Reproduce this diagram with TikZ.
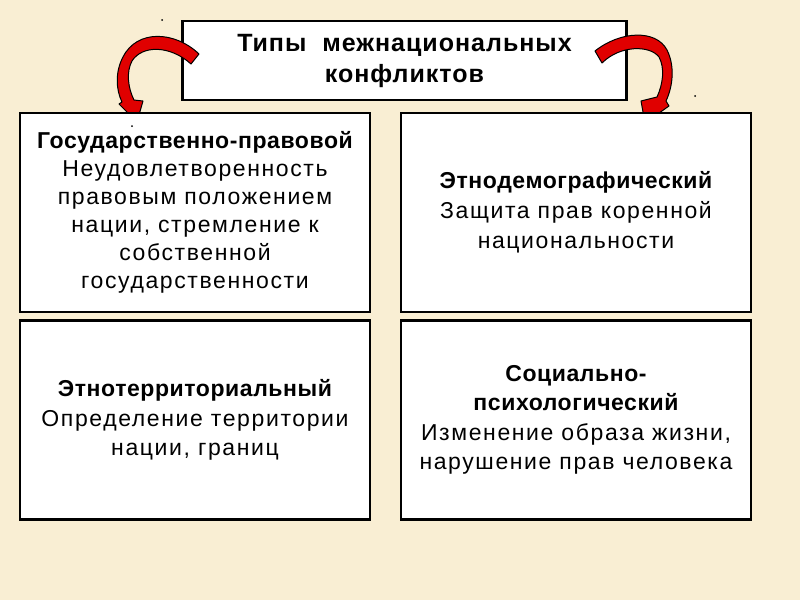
\documentclass[tikz,border=0pt]{standalone}
\usepackage{fontspec}
\setmainfont{Liberation Sans}
\usepackage{tikz, xcolor}
\usetikzlibrary{shapes,arrows}

\definecolor{parchment}{HTML}{F9EED3}
\definecolor{arrowred}{HTML}{E00000}
\newcommand{\kindname}[1]{{\bfseries\addfontfeatures{LetterSpace=2.5}#1}}

\begin{document}
\begin{tikzpicture}[x=1pt, y=-1pt, thick]
\tikzstyle{typebox}=[rectangle, draw=black, fill=white, line width=2.5pt, minimum width=350pt, minimum height=199pt, align=center, font=\fontsize{23}{29.5}\selectfont\addfontfeatures{LetterSpace=7}]
\tikzstyle{titlebox}=[rectangle, draw=black, fill=white, line width=2.5pt, minimum width=444pt, minimum height=79pt, align=center, font=\fontsize{25}{31}\selectfont\bfseries\addfontfeatures{LetterSpace=4}]
\tikzstyle{bendarrow}=[draw=black, line width=1pt, fill=arrowred, line join=round]

% background
\fill[parchment] (0,0) rectangle (800,600);
\useasboundingbox (0,0) rectangle (800,600);

\node[titlebox] (T0) at (404.5,60.5) {Типы\ \ межнациональных\\конфликтов};

% curved arrows
\filldraw[bendarrow] (199,54) .. controls (175,31) and (137,29) .. (123,57)
  .. controls (115,72) and (116,90) .. (122,102) -- (119,104) -- (137,122)
  -- (143,101) -- (134,100) .. controls (128,88) and (126,72) .. (132,61)
  .. controls (142,45) and (170,45) .. (191,64) -- cycle;
\filldraw[bendarrow] (595,51) .. controls (620,31) and (656,29) .. (667,50)
  .. controls (675,66) and (673,86) .. (666,101) -- (669,106) -- (645,123)
  -- (641,101) -- (657,97) .. controls (663,84) and (665,68) .. (659,57)
  .. controls (650,45) and (620,45) .. (602,63) -- cycle;

\node[typebox, font=\fontsize{23}{28}\selectfont\addfontfeatures{LetterSpace=7}] (B0x0) at (195,212.5) {\kindname{Государственно-правовой}\\Неудовлетворенность\\правовым положением\\нации, стремление к\\собственной\\государственности};
\node[typebox, font=\fontsize{23}{30}\selectfont\addfontfeatures{LetterSpace=7}] (B1x0) at (576,212.5) {\kindname{Этнодемографический}\\Защита прав коренной\\национальности};
\node[typebox] (B0x1) at (195,420) {\kindname{Этнотерриториальный}\\Определение территории\\нации, границ};
\node[typebox] (B1x1) at (576,420) {\kindname{Социально-}\\\kindname{психологический}\\Изменение образа жизни,\\нарушение прав человека};

% stray dots
\fill (162,20) circle (1pt);
\fill (132,126) circle (1pt);
\fill (695,96) circle (1pt);
\end{tikzpicture}
\end{document}
